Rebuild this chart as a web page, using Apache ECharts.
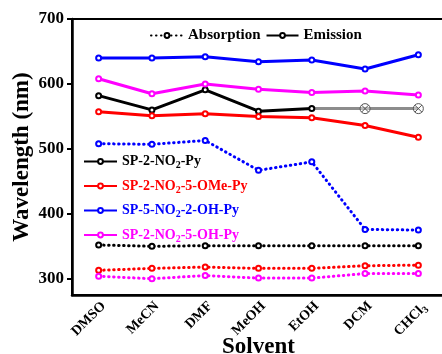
<!DOCTYPE html>
<html><head><meta charset="utf-8">
<script src="https://cdn.jsdelivr.net/npm/echarts@6/dist/echarts.min.js"></script>
<style>html,body{margin:0;padding:0;background:#fff}#c{width:442px;height:354px}</style>
</head><body><div id="c"></div>
<script>
var solvents = ['DMSO','MeCN','DMF','MeOH','EtOH','DCM','CHCl3'];
var yTicks = [300,400,500,600,700];
var compounds = ['SP-2-NO2-Py','SP-2-NO2-5-OMe-Py','SP-5-NO2-2-OH-Py','SP-2-NO2-5-OH-Py'];
var colors = ['#000000','#ff0000','#0000ff','#ff00ff'];
// Emission
var emBlack   = [582, 560, 591, 558, 562, null, null];
var emRed     = [557, 551, 554, 550, 548, 536, 518];
var emBlue    = [640, 640, 642, 634, 637, 623, 645];
var emMagenta = [608, 585, 600, 592, 587, 589, 583];
var emGray    = [null, null, null, null, 562, 562, 562];
// Absorption
var abBlack   = [352, 350, 351, 351, 351, 351, 351];
var abRed     = [313, 316, 318, 316, 316, 320, 321];
var abBlue    = [508, 507, 513, 467, 480, 376, 375];
var abMagenta = [304, 300, 305, 301, 301, 308, 308];

var FONT = 'Liberation Serif';
var emData = [emBlack, emRed, emBlue, emMagenta];
var abData = [abBlack, abRed, abBlue, abMagenta];
var dotStyle = function(c){ return {color:c, width:3, type:[0.5,4.5], cap:'round'}; };
function crossPath(){ return 'path://M0,5A5,5,0,1,1,10,5A5,5,0,1,1,0,5ZM1.5,1.5L8.5,8.5M8.5,1.5L1.5,8.5'; }
var series = [];
for (var i=0;i<4;i++){
  series.push({name: compounds[i]+' abs', type:'line', data: abData[i], symbol:'emptyCircle', symbolSize:5,
    itemStyle:{color:colors[i], borderWidth:1.2}, lineStyle: dotStyle(colors[i]), z:2});
}
series.push({name:'gray', type:'line',
  data: emGray.map(function(v,k){ return k===4 ? {value:v, symbol:'none'} : v; }),
  symbol: crossPath(), symbolSize:10,
  itemStyle:{color:'rgba(255,255,255,0.4)', borderColor:'#555', borderWidth:1},
  lineStyle:{color:'#8c8c8c', width:3}, z:2});
for (var i=0;i<4;i++){
  series.push({name: compounds[i], type:'line', data: emData[i], symbol:'emptyCircle', symbolSize:5,
    itemStyle:{color:colors[i], borderWidth:1.2}, lineStyle:{color:colors[i], width:3}, z:3});
}
series.push({name:'Absorption', type:'line', data:[], symbol:'emptyCircle', itemStyle:{color:'#000'}, lineStyle: dotStyle('#000')});
series.push({name:'Emission', type:'line', data:[], symbol:'emptyCircle', itemStyle:{color:'#000'}, lineStyle:{color:'#000', width:3}});

function subFmt(name){ return name.replace('NO2','NO{s|2}'); }
var chart = echarts.init(document.getElementById('c'), null, {renderer:'canvas'});
chart.setOption({
  animation:false,
  backgroundColor:'#fff',
  grid:{left:72, top:19, width:373, height:276, show:true, borderColor:'#000', borderWidth:2, backgroundColor:'transparent', outerBoundsMode:'none'},
  legend:[
    {data:['Absorption','Emission'], left:145, top:23, itemWidth:32, itemHeight:6, itemGap:5,
     textStyle:{fontFamily:FONT, fontWeight:'bold', fontSize:15, color:'#000'}},
    {data: compounds.map(function(n,i){ return {name:n, textStyle:{color:colors[i], rich:{s:{fontFamily:FONT,fontWeight:'bold',fontSize:10,color:colors[i],padding:[8,0,0,0]}}}}; }),
     orient:'vertical', left:78, top:148, itemWidth:33, itemHeight:6, itemGap:7,
     formatter: subFmt,
     textStyle:{fontFamily:FONT, fontWeight:'bold', fontSize:14, lineHeight:17}}
  ],
  xAxis:{type:'category', data: solvents, boundaryGap:true,
    name:'Solvent', nameLocation:'middle', nameGap:41, nameMoveOverlap:false,
    nameTextStyle:{fontFamily:FONT, fontWeight:'bold', fontSize:23, color:'#000'},
    axisLine:{lineStyle:{color:'#000', width:2.5}},
    axisTick:{alignWithLabel:true, length:6, lineStyle:{width:2, color:'#000'}},
    axisLabel:{rotate:45, margin:4, verticalAlign:'top', fontFamily:FONT, fontWeight:'bold', fontSize:14, color:'#000',
      formatter:function(v){ return v==='CHCl3' ? 'CHCl{s|3}' : v; },
      rich:{s:{fontFamily:FONT,fontWeight:'bold',fontSize:10,color:'#000',padding:[8,0,0,0]}}},
    splitLine:{show:false}},
  yAxis:{type:'value', min:275, max:700,
    name:'Wavelength (nm)', nameLocation:'middle', nameGap:38, nameMoveOverlap:false,
    nameTextStyle:{fontFamily:FONT, fontWeight:'bold', fontSize:23, color:'#000'},
    axisLine:{show:true, lineStyle:{color:'#000', width:2.5}},
    axisTick:{show:true, length:5, customValues: yTicks, lineStyle:{width:2, color:'#000'}},
    axisLabel:{customValues: yTicks, margin:8, fontFamily:FONT, fontWeight:'bold', fontSize:17, color:'#000'},
    splitLine:{show:false}},
  series: series
});
</script></body></html>
